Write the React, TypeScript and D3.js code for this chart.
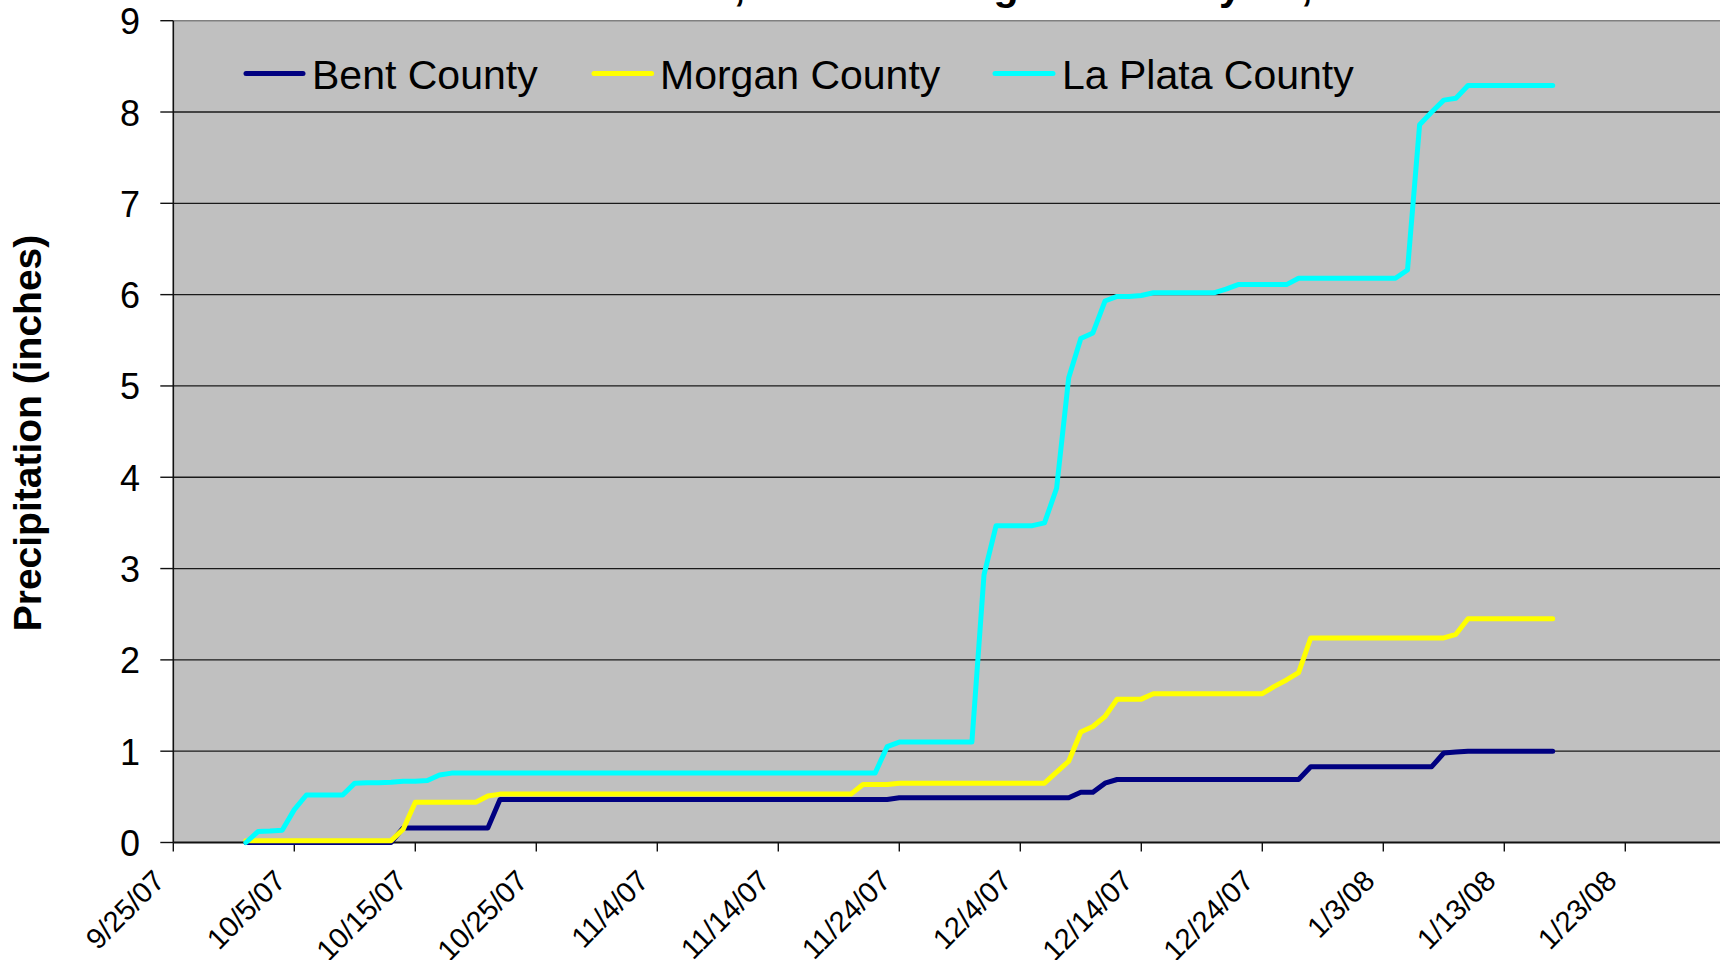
import React from "react";
import * as d3 from "d3";

// Daily cumulative precipitation (inches), starting 10/1/2007
const START_DATE = "2007-10-01";

const BENT_COUNTY = [
  0, 0, 0, 0, 0, 0, 0, 0, 0, 0,
  0, 0, 0, 0.16, 0.16, 0.16, 0.16, 0.16, 0.16, 0.16,
  0.16, 0.47, 0.47, 0.47, 0.47, 0.47, 0.47, 0.47, 0.47, 0.47,
  0.47, 0.47, 0.47, 0.47, 0.47, 0.47, 0.47, 0.47, 0.47, 0.47,
  0.47, 0.47, 0.47, 0.47, 0.47, 0.47, 0.47, 0.47, 0.47, 0.47,
  0.47, 0.47, 0.47, 0.47, 0.49, 0.49, 0.49, 0.49, 0.49, 0.49,
  0.49, 0.49, 0.49, 0.49, 0.49, 0.49, 0.49, 0.49, 0.49, 0.55,
  0.55, 0.65, 0.69, 0.69, 0.69, 0.69, 0.69, 0.69, 0.69, 0.69,
  0.69, 0.69, 0.69, 0.69, 0.69, 0.69, 0.69, 0.69, 0.83, 0.83,
  0.83, 0.83, 0.83, 0.83, 0.83, 0.83, 0.83, 0.83, 0.83, 0.98,
  0.99, 1.0, 1.0, 1.0, 1.0, 1.0, 1.0, 1.0, 1.0,
];

const MORGAN_COUNTY = [
  0.02, 0.02, 0.02, 0.02, 0.02, 0.02, 0.02, 0.02, 0.02, 0.02,
  0.02, 0.02, 0.02, 0.145, 0.44, 0.44, 0.44, 0.44, 0.44, 0.44,
  0.51, 0.53, 0.53, 0.53, 0.53, 0.53, 0.53, 0.53, 0.53, 0.53,
  0.53, 0.53, 0.53, 0.53, 0.53, 0.53, 0.53, 0.53, 0.53, 0.53,
  0.53, 0.53, 0.53, 0.53, 0.53, 0.53, 0.53, 0.53, 0.53, 0.53,
  0.53, 0.635, 0.635, 0.635, 0.65, 0.65, 0.65, 0.65, 0.65, 0.65,
  0.65, 0.65, 0.65, 0.65, 0.65, 0.65, 0.65, 0.77, 0.89, 1.21,
  1.27, 1.38, 1.57, 1.57, 1.57, 1.63, 1.63, 1.63, 1.63, 1.63,
  1.63, 1.63, 1.63, 1.63, 1.63, 1.71, 1.78, 1.86, 2.24, 2.24,
  2.24, 2.24, 2.24, 2.24, 2.24, 2.24, 2.24, 2.24, 2.24, 2.24,
  2.28, 2.45, 2.45, 2.45, 2.45, 2.45, 2.45, 2.45, 2.45,
];

const LA_PLATA_COUNTY = [
  0, 0.12, 0.125, 0.135, 0.36, 0.52, 0.52, 0.52, 0.52, 0.65,
  0.655, 0.655, 0.66, 0.67, 0.67, 0.68, 0.74, 0.76, 0.76, 0.76,
  0.76, 0.76, 0.76, 0.76, 0.76, 0.76, 0.76, 0.76, 0.76, 0.76,
  0.76, 0.76, 0.76, 0.76, 0.76, 0.76, 0.76, 0.76, 0.76, 0.76,
  0.76, 0.76, 0.76, 0.76, 0.76, 0.76, 0.76, 0.76, 0.76, 0.76,
  0.76, 0.76, 0.76, 1.05, 1.1, 1.1, 1.1, 1.1, 1.1, 1.1,
  1.1, 2.93, 3.47, 3.47, 3.47, 3.47, 3.5, 3.88, 5.09, 5.52,
  5.58, 5.93, 5.98, 5.98, 5.99, 6.02, 6.02, 6.02, 6.02, 6.02,
  6.02, 6.06, 6.11, 6.11, 6.11, 6.11, 6.11, 6.18, 6.18, 6.18,
  6.18, 6.18, 6.18, 6.18, 6.18, 6.18, 6.27, 7.86, 8.0, 8.13,
  8.15, 8.29, 8.29, 8.29, 8.29, 8.29, 8.29, 8.29, 8.29,
];

const SERIES_NAMES = ["Bent County", "Morgan County", "La Plata County"];
const SERIES_COLORS = ["#000080", "#FFFF00", "#00FFFF"];
const Y_TICKS = [0, 1, 2, 3, 4, 5, 6, 7, 8, 9];
const X_DOMAIN = ["2007-09-25", "2008-02-02"];
const X_TICK_END = "2008-01-24";
const TITLE = "Cumulative totals, winter through the new year, 2007-2008";
const Y_TITLE = "Precipitation (inches)";

const W = 1720;
const H = 960;
const FONT = "'Liberation Sans', Arial, Helvetica, sans-serif";

export default function App() {
  const parse = d3.utcParse("%Y-%m-%d");
  const start = parse(START_DATE) as Date;
  const x = d3
    .scaleUtc()
    .domain([parse(X_DOMAIN[0]) as Date, parse(X_DOMAIN[1]) as Date])
    .range([173.3, 1746.3]);
  const y = d3.scaleLinear().domain([0, 9]).range([842.5, 20.7]);
  const fmt = d3.utcFormat("%-m/%-d/%y");
  const ticks = d3.utcDay.range(
    parse(X_DOMAIN[0]) as Date,
    parse(X_TICK_END) as Date,
    10
  );

  const seriesData = [BENT_COUNTY, MORGAN_COUNTY, LA_PLATA_COUNTY].map((vals) =>
    vals.map((v, i) => ({ date: d3.utcDay.offset(start, i), v }))
  );
  const line = d3
    .line<{ date: Date; v: number }>()
    .x((d) => x(d.date))
    .y((d) => y(d.v));

  const x0 = x.range()[0];
  const yBottom = y(0);
  const yTop = y(9);

  const legend = [
    { lx1: 246, lx2: 303, tx: 312 },
    { lx1: 594, lx2: 651.6, tx: 660 },
    { lx1: 995, lx2: 1053, tx: 1062 },
  ];

  return (
    <>
      <style>{`body{margin:0;background:#fff}`}</style>
      <svg width={W} height={H} style={{ display: "block" }} fontFamily={FONT}>
        <rect x={0} y={0} width={W} height={H} fill="#ffffff" />
        {/* title (mostly cut off at top) */}
        <text x={392} y={0} fontSize={41} fontWeight="bold" fill="#000">
          {TITLE}
        </text>
        {/* plot area */}
        <rect x={x0} y={yTop} width={W - x0} height={yBottom - yTop} fill="#C0C0C0" />
        {Y_TICKS.filter((t) => t > 0 && t < 9).map((t) => (
          <line key={t} x1={x0} x2={W} y1={y(t)} y2={y(t)} stroke="#1a1a1a" strokeWidth={1.3} />
        ))}
        <line x1={x0} x2={W} y1={yTop} y2={yTop} stroke="#808080" strokeWidth={1.5} />
        {/* y axis */}
        <line x1={x0} x2={x0} y1={yTop} y2={yBottom} stroke="#111" strokeWidth={1.6} />
        {Y_TICKS.map((t) => (
          <g key={t}>
            <line x1={x0 - 13} x2={x0} y1={y(t)} y2={y(t)} stroke="#111" strokeWidth={1.4} />
            <text x={140} y={y(t) + 13.5} fontSize={36} textAnchor="end" fill="#000">
              {t}
            </text>
          </g>
        ))}
        <text
          transform={`translate(41,433) rotate(-90)`}
          fontSize={39}
          fontWeight="bold"
          textAnchor="middle"
          fill="#000"
        >
          {Y_TITLE}
        </text>
        {/* x axis */}
        <line x1={x0} x2={W} y1={yBottom} y2={yBottom} stroke="#111" strokeWidth={1.8} />
        {ticks.map((t) => (
          <g key={t.getTime()}>
            <line x1={x(t)} x2={x(t)} y1={yBottom} y2={yBottom + 9} stroke="#111" strokeWidth={1.4} />
            <text
              transform={`translate(${x(t) - 7},${yBottom + 40}) rotate(-45)`}
              fontSize={29}
              textAnchor="end"
              fill="#000"
            >
              {fmt(t)}
            </text>
          </g>
        ))}
        {/* series */}
        {seriesData.map((d, i) => (
          <path
            key={SERIES_NAMES[i]}
            d={line(d) ?? ""}
            fill="none"
            stroke={SERIES_COLORS[i]}
            strokeWidth={5}
            strokeLinejoin="round"
            strokeLinecap="round"
          />
        ))}
        {/* legend */}
        {legend.map((l, i) => (
          <g key={i}>
            <line
              x1={l.lx1}
              x2={l.lx2}
              y1={73.5}
              y2={73.5}
              stroke={SERIES_COLORS[i]}
              strokeWidth={5}
              strokeLinecap="round"
            />
            <text x={l.tx} y={89.3} fontSize={41} fill="#000">
              {SERIES_NAMES[i]}
            </text>
          </g>
        ))}
      </svg>
    </>
  );
}
